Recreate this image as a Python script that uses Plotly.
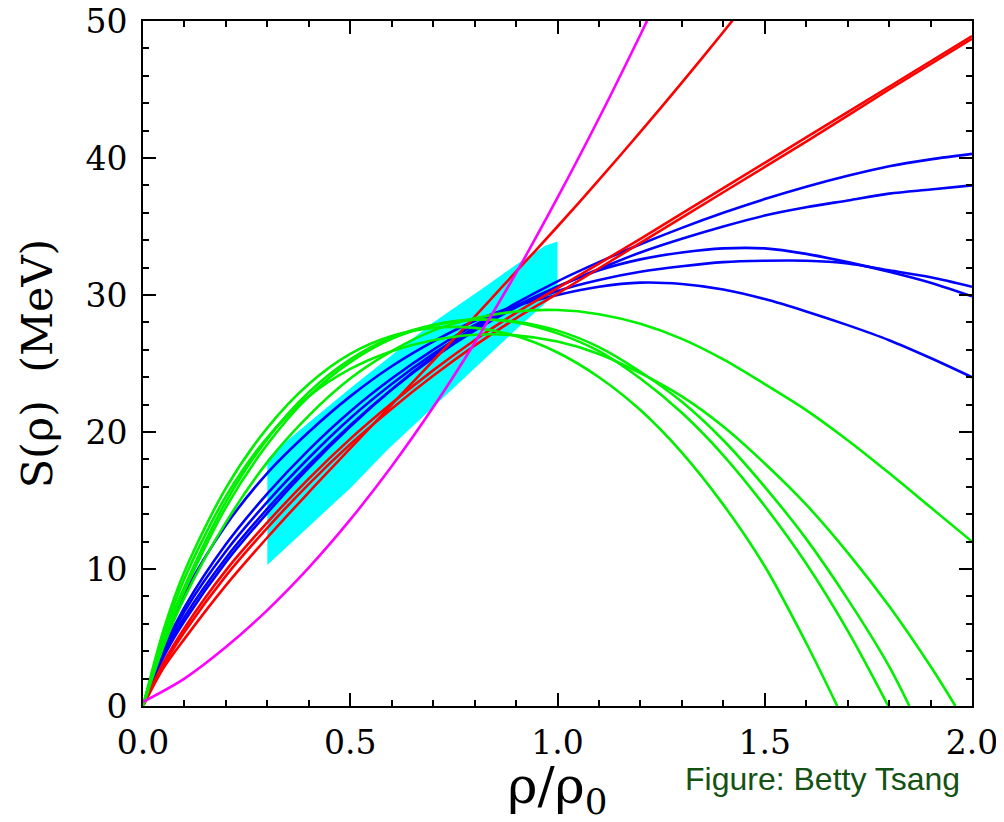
import plotly.graph_objects as go

# ---- data ----
band_x = [0.3, 0.4, 0.5, 0.59, 0.72, 0.8, 0.89, 1.0, 1.0, 0.97, 0.9, 0.82, 0.7, 0.6, 0.5, 0.4, 0.33, 0.3]
band_y = [10.3, 13.1, 15.9, 18.7, 22.4, 24.7, 27.2, 30.2, 33.9, 33.6, 32.2, 30.5, 28.0, 25.6, 23.2, 20.7, 18.9, 18.0]

magenta_x = [0, 0.1, 0.2, 0.3, 0.4, 0.5, 0.6, 0.7, 0.8, 0.9, 1.0, 1.1, 1.2, 1.3]
magenta_y = [0.3, 2.0, 4.3, 7.0, 10.1, 13.6, 17.5, 21.8, 26.5, 31.6, 37.1, 42.9, 49.0, 55.3]

redA_x = [0, 0.05, 0.1, 0.2, 0.3, 0.4, 0.5, 0.6, 0.7, 0.8, 0.9, 1.0, 1.1, 1.2, 1.3, 1.4, 1.5]
redA_y = [0, 2.8, 4.9, 8.8, 12.3, 15.6, 18.8, 22.0, 25.2, 28.4, 31.7, 35.0, 38.4, 41.9, 45.5, 49.2, 53.0]

redB_x = [0, 0.05, 0.1, 0.2, 0.3, 0.4, 0.5, 0.6, 0.7, 0.8, 0.9, 1.0, 1.2, 1.4, 1.6, 1.8, 2.0]
redB_y = [0, 3.0, 5.4, 9.5, 13.0, 16.2, 19.1, 21.7, 24.1, 26.3, 28.3, 30.1, 33.8, 37.5, 41.2, 45.0, 48.7]
redC_y = [0, 3.2, 5.7, 9.9, 13.4, 16.6, 19.5, 22.1, 24.5, 26.7, 28.7, 30.5, 34.1, 37.8, 41.5, 45.2, 48.9]

x_full = [0, 0.05, 0.1, 0.2, 0.3, 0.4, 0.5, 0.6, 0.7, 0.8, 0.9, 1.0,
          1.1, 1.2, 1.3, 1.4, 1.5, 1.6, 1.7, 1.8, 1.9, 2.0]
blue1_y = [0, 3.6, 6.2, 10.5, 14.1, 17.4, 20.4, 23.1, 25.5, 27.6, 29.4, 31.0,
           32.4, 33.7, 34.9, 36.0, 37.0, 37.9, 38.7, 39.4, 39.9, 40.3]
blue2_y = [0, 3.8, 6.5, 10.8, 14.4, 17.6, 20.5, 23.1, 25.4, 27.4, 29.1, 30.6,
           31.9, 33.1, 34.1, 35.0, 35.8, 36.4, 36.9, 37.4, 37.7, 38.0]
blue3_y = [0, 4.0, 6.9, 11.3, 14.9, 18.1, 21.0, 23.5, 25.7, 27.6, 29.2, 30.6,
           31.8, 32.6, 33.1, 33.4, 33.4, 33.0, 32.4, 31.7, 30.9, 29.9]
blue4_y = [0, 4.2, 7.2, 11.8, 15.5, 18.7, 21.5, 23.9, 26.0, 27.8, 29.2, 30.3,
           31.1, 31.7, 32.1, 32.4, 32.5, 32.5, 32.3, 31.8, 31.3, 30.6]
blue5_y = [0, 4.8, 8.2, 13.2, 17.0, 20.0, 22.6, 24.8, 26.6, 28.1, 29.2, 30.0,
           30.6, 30.9, 30.8, 30.4, 29.7, 28.8, 27.8, 26.7, 25.4, 24.0]

green1_x = [0, 0.05, 0.1, 0.2, 0.3, 0.4, 0.5, 0.6, 0.7, 0.8, 0.9, 1.0, 1.1, 1.2, 1.3, 1.4, 1.5, 1.6, 1.675]
green1_y = [0, 5.6, 9.8, 15.9, 20.3, 23.5, 25.7, 27.0, 27.6, 27.6, 27.0, 25.8, 24.0, 21.6, 18.5, 14.7, 10.2, 4.6, 0]
green2_x = [0, 0.05, 0.1, 0.2, 0.3, 0.4, 0.5, 0.6, 0.7, 0.8, 0.9, 1.0, 1.1, 1.2, 1.3, 1.4, 1.5, 1.6, 1.7, 1.798]
green2_y = [0, 5.0, 8.7, 14.9, 19.5, 22.9, 25.3, 26.9, 27.8, 28.2, 28.0, 27.2, 25.9, 23.9, 21.4, 18.3, 14.6, 10.4, 5.5, 0]
green3_x = [0, 0.05, 0.1, 0.2, 0.3, 0.4, 0.5, 0.6, 0.7, 0.8, 0.9, 1.0, 1.1, 1.2, 1.3, 1.4, 1.5, 1.6, 1.7, 1.8, 1.849]
green3_y = [0, 4.8, 8.4, 14.5, 19.1, 22.6, 25.1, 26.8, 27.8, 28.2, 28.05, 27.4, 26.2, 24.4, 22.2, 19.4, 16.0, 12.2, 7.8, 2.9, 0]
green4_x = [0, 0.05, 0.1, 0.2, 0.3, 0.4, 0.5, 0.6, 0.7, 0.8, 0.9, 1.0, 1.1, 1.2, 1.3, 1.4, 1.5, 1.6, 1.7, 1.8, 1.9, 1.96]
green4_y = [0, 5.2, 9.3, 15.3, 19.6, 22.6, 24.6, 25.9, 26.7, 27.1, 27.05, 26.6, 25.7, 24.3, 22.6, 20.4, 17.7, 14.7, 11.2, 7.3, 2.9, 0]
green5_y = [0, 4.4, 7.9, 13.4, 17.8, 21.2, 23.9, 25.9, 27.4, 28.3, 28.8, 28.9,
            28.6, 27.9, 26.8, 25.3, 23.5, 21.6, 19.4, 17.0, 14.5, 12.0]

x_ticks = [0.0, 0.5, 1.0, 1.5, 2.0]
y_ticks = [0, 10, 20, 30, 40, 50]

BLUE, RED, GREEN, MAG, CYAN = "#0000ff", "#ff0000", "#00f000", "#ff00ff", "#00ffff"
LW = 2.6

fig = go.Figure()
fig.add_trace(go.Scatter(x=band_x, y=band_y, fill="toself", fillcolor=CYAN,
                         mode="lines", line=dict(width=0, color=CYAN), hoverinfo="skip"))

def curve(x, y, color):
    fig.add_trace(go.Scatter(x=x, y=y, mode="lines",
                             line=dict(color=color, width=LW, shape="spline", smoothing=0.9)))

for by in [blue1_y, blue2_y, blue3_y, blue4_y, blue5_y]:
    curve(x_full, by, BLUE)
curve(redB_x, redB_y, RED)
curve(redB_x, redC_y, RED)
curve(redA_x, redA_y, RED)
curve(green1_x, green1_y, GREEN)
curve(green2_x, green2_y, GREEN)
curve(green3_x, green3_y, GREEN)
curve(green4_x, green4_y, GREEN)
curve(x_full, green5_y, GREEN)
curve(magenta_x, magenta_y, MAG)

axis_font = dict(family="DejaVu Serif", size=33, color="black")
fig.update_xaxes(range=[0, 2], tickvals=x_ticks, ticktext=[f"{v:.1f}" for v in x_ticks],
                 ticks="inside", ticklen=13, tickwidth=2, tickcolor="black",
                 minor=dict(ticks="inside", ticklen=6, tickwidth=2, dtick=0.1, tickcolor="black"),
                 showline=True, linewidth=2, linecolor="black", mirror="allticks",
                 showgrid=False, zeroline=False, tickfont=axis_font, ticklabelstandoff=6,
                 automargin=False, ticklabeloverflow="allow",
                 title=dict(text="ρ/ρ<sub>0</sub>", font=dict(family="DejaVu Serif", size=51, color="black"),
                            standoff=18))
fig.update_yaxes(range=[0, 50], tickvals=y_ticks,
                 ticks="inside", ticklen=13, tickwidth=2, tickcolor="black",
                 minor=dict(ticks="inside", ticklen=6, tickwidth=2, dtick=2, tickcolor="black"),
                 showline=True, linewidth=2, linecolor="black", mirror="allticks",
                 showgrid=False, zeroline=False, tickfont=axis_font, ticklabelstandoff=7,
                 automargin=False, ticklabeloverflow="allow",
                 title=dict(text="S(ρ)  (MeV)", font=dict(family="DejaVu Serif", size=43, color="black"),
                            standoff=19))

fig.add_annotation(text="Figure: Betty Tsang", xref="paper", yref="paper",
                   x=0.988, y=-0.107, xanchor="right", yanchor="middle", showarrow=False,
                   font=dict(family="Liberation Sans", size=32, color="#145214"))

# page body adds an 8px offset; figure sized so the plot area lands where the reference has it
fig.update_layout(width=996, height=814, showlegend=False,
                  margin=dict(l=135, r=32, t=13, b=116),
                  plot_bgcolor="white", paper_bgcolor="white")

fig.write_html("out.html")
